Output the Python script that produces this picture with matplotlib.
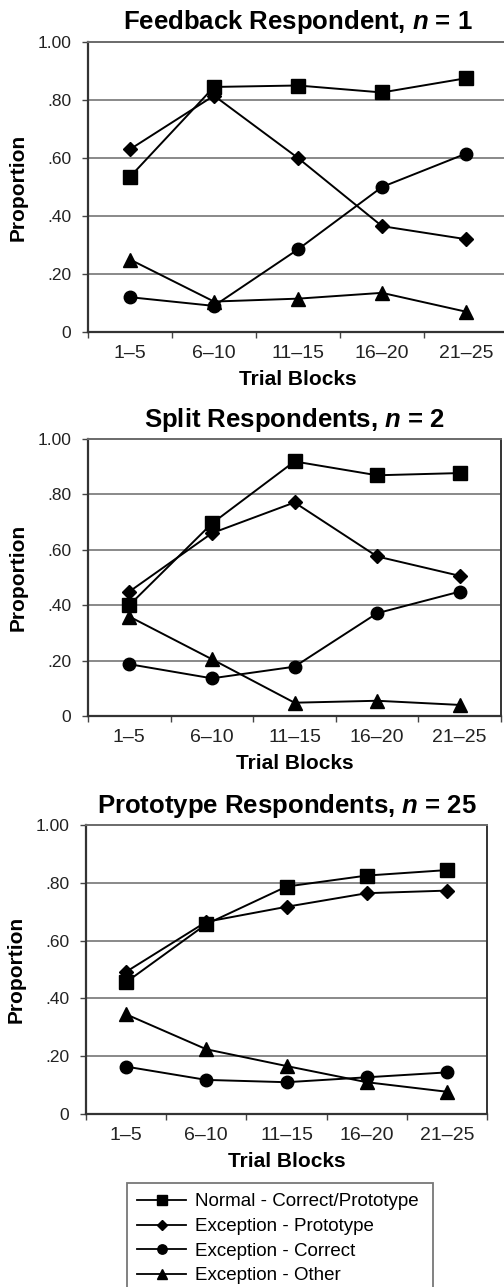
import matplotlib
matplotlib.use("Agg")
import matplotlib.pyplot as plt
from matplotlib.lines import Line2D

plt.rcParams["font.family"] = ["Liberation Sans", "DejaVu Sans"]
plt.rcParams["mathtext.fontset"] = "custom"
plt.rcParams["mathtext.it"] = "Liberation Sans:italic:bold"
plt.rcParams["mathtext.rm"] = "Liberation Sans:bold"

# trial blocks on the x axis
blocks = ["1\u20135", "6\u201310", "11\u201315", "16\u201320", "21\u201325"]
yticks = [0, 0.2, 0.4, 0.6, 0.8, 1.0]
ytick_labels = ["0", ".20", ".40", ".60", ".80", "1.00"]

titles = [
    r"Feedback Respondent, $n$ = 1",
    r"Split Respondents, $n$ = 2",
    r"Prototype Respondents, $n$ = 25",
]

series_names = [
    "Normal - Correct/Prototype",
    "Exception - Prototype",
    "Exception - Correct",
    "Exception - Other",
]

# panel 1: feedback respondent
fb_normal = [0.535, 0.845, 0.85, 0.826, 0.875]
fb_exc_proto = [0.63, 0.815, 0.60, 0.365, 0.32]
fb_exc_correct = [0.12, 0.09, 0.285, 0.50, 0.615]
fb_exc_other = [0.25, 0.105, 0.115, 0.135, 0.07]

# panel 2: split respondents
sp_normal = [0.40, 0.695, 0.919, 0.869, 0.877]
sp_exc_proto = [0.449, 0.66, 0.771, 0.576, 0.506]
sp_exc_correct = [0.187, 0.136, 0.178, 0.371, 0.449]
sp_exc_other = [0.359, 0.205, 0.048, 0.055, 0.04]

# panel 3: prototype respondents
pr_normal = [0.456, 0.657, 0.787, 0.825, 0.844]
pr_exc_proto = [0.492, 0.665, 0.717, 0.764, 0.773]
pr_exc_correct = [0.164, 0.118, 0.11, 0.127, 0.144]
pr_exc_other = [0.345, 0.224, 0.166, 0.11, 0.077]

panels = [
    [fb_normal, fb_exc_proto, fb_exc_correct, fb_exc_other],
    [sp_normal, sp_exc_proto, sp_exc_correct, sp_exc_other],
    [pr_normal, pr_exc_proto, pr_exc_correct, pr_exc_other],
]

markers = ["s", "D", "o", "^"]
msizes = [10, 7, 9, 10.5]

W, H = 504, 1287
# axes boxes in pixels: left, top, right, bottom
boxes = [
    (88, 42, 508, 332),
    (88, 439, 501, 716),
    (86, 825, 487, 1114),
]

fig = plt.figure(figsize=(W / 100, H / 100), dpi=100)
for (l, t, r, b), title, data in zip(boxes, titles, panels):
    ax = fig.add_axes([l / W, 1 - b / H, (r - l) / W, (b - t) / H])
    x = range(len(blocks))
    for vals, m, ms in zip(data, markers, msizes):
        ax.plot(x, vals, color="black", lw=1.4, marker=m, ms=ms, zorder=3)
    ax.set_xlim(-0.5, len(blocks) - 0.5)
    ax.set_ylim(0, 1)
    ax.set_yticks(yticks, ytick_labels, fontsize=12.5, color="#222222")
    ax.set_xticks(range(len(blocks)), blocks, fontsize=14, color="#222222")
    ax.set_xticks([i - 0.5 for i in range(len(blocks) + 1)], minor=True)
    ax.tick_params(axis="x", which="major", length=0, pad=9)
    ax.tick_params(axis="x", which="minor", length=4, width=1, direction="out",
                   color="#444444")
    ax.tick_params(axis="y", length=4, width=1, direction="out", pad=8,
                   color="#444444")
    for yv in yticks[1:-1]:
        ax.axhline(yv, color="#808080", lw=1.3, zorder=1)
    ax.spines["top"].set_color("#6a6a6a")
    ax.spines["top"].set_linewidth(1.4)
    ax.spines["right"].set_color("#333333")
    ax.spines["right"].set_linewidth(1.4)
    for side in ["left", "bottom"]:
        ax.spines[side].set_color("#333333")
        ax.spines[side].set_linewidth(1.6)
    ax.set_title(title, fontsize=18.5, fontweight="bold", pad=9)
    ax.set_ylabel("Proportion", fontsize=15, fontweight="bold", labelpad=7)
    ax.set_xlabel("Trial Blocks", fontsize=15, fontweight="bold", labelpad=6)

handles = [
    Line2D([], [], color="black", lw=1.3, marker=m, ms=ms * 0.75)
    for m, ms in zip(markers, msizes)
]
leg = fig.legend(
    handles, series_names,
    loc="upper left", mode="expand",
    bbox_to_anchor=(127 / W, 1 - 1183 / H, (433 - 127) / W, 0),
    fontsize=13.5, frameon=True, fancybox=False, edgecolor="#555555",
    handlelength=2.6, handletextpad=0.5, labelspacing=0.4,
    borderpad=0.55, borderaxespad=0,
)
leg.get_frame().set_linewidth(1.3)

fig.savefig("out.png", dpi=100)
